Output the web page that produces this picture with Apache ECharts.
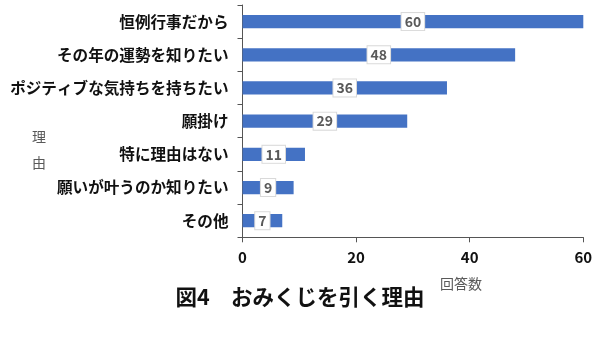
<!DOCTYPE html>
<html>
<head>
<meta charset="utf-8">
<script src="https://cdn.jsdelivr.net/npm/echarts@6/dist/echarts.min.js"></script>
<style>
  html, body { margin: 0; padding: 0; background: #fff; }
  #chart { width: 600px; height: 337px; }
</style>
</head>
<body>
<div id="chart"></div>
<script>
// おみくじを引く理由（回答数）
const categories = [
  '恒例行事だから',
  'その年の運勢を知りたい',
  'ポジティブな気持ちを持ちたい',
  '願掛け',
  '特に理由はない',
  '願いが叶うのか知りたい',
  'その他'
];
const counts = [60, 48, 36, 29, 11, 9, 7];
const xTicks = [0, 20, 40, 60];

const FONT = '"Noto Sans CJK JP", "Noto Sans", sans-serif';
const chart = echarts.init(document.getElementById('chart'));

chart.setOption({
  animation: false,
  textStyle: { fontFamily: FONT },
  grid: { left: 242.5, right: 16.7, top: 5, bottom: 99.7 },
  xAxis: {
    type: 'value',
    min: xTicks[0],
    max: xTicks[xTicks.length - 1],
    interval: xTicks[1] - xTicks[0],
    splitLine: { show: false },
    axisLine: { show: true, lineStyle: { color: '#555', width: 1 } },
    axisTick: { show: true, length: 5, lineStyle: { color: '#555' } },
    axisLabel: { color: '#111', fontSize: 15, fontWeight: 'bold', margin: 12, fontFamily: FONT }
  },
  yAxis: {
    type: 'category',
    data: categories,
    inverse: true,
    axisLine: { show: true, lineStyle: { color: '#555', width: 1 } },
    axisTick: { show: true, length: 5, lineStyle: { color: '#555' } },
    axisLabel: { color: '#111', fontSize: 15.6, fontWeight: 'bold', margin: 14, fontFamily: FONT }
  },
  series: [{
    type: 'bar',
    data: counts,
    barWidth: '40%',
    itemStyle: { color: '#4472C4' },
    label: {
      show: true,
      position: 'inside',
      color: '#595959',
      fontSize: 14,
      fontWeight: 'bold',
      fontFamily: FONT,
      backgroundColor: '#fff',
      borderColor: '#d9d9d9',
      borderWidth: 1,
      padding: [2, 3, 1, 3]
    }
  }],
  graphic: [
    {
      type: 'text',
      left: 32,
      top: 124,
      style: {
        text: '理\n由',
        fill: '#595959',
        font: '14px ' + FONT,
        lineHeight: 26
      }
    },
    {
      type: 'text',
      left: 440,
      top: 277,
      style: { text: '回答数', fill: '#595959', font: '14px ' + FONT }
    },
    {
      type: 'text',
      left: 'center',
      top: 286,
      style: { text: '図4　おみくじを引く理由', fill: '#111', font: 'bold 21.5px ' + FONT }
    }
  ]
});
</script>
</body>
</html>
